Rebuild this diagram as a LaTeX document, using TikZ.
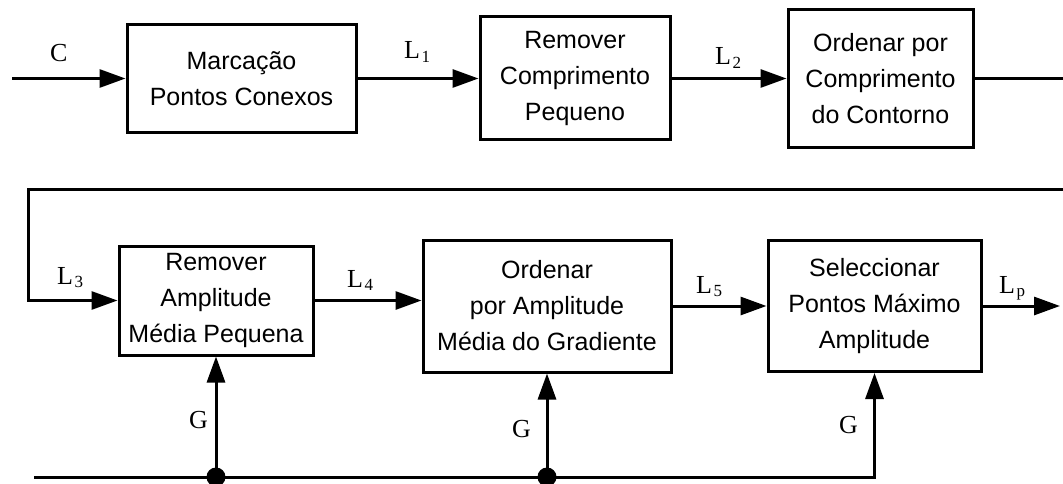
\documentclass[tikz,border=0pt]{standalone}
\usepackage{fontspec}
\setmainfont{Liberation Serif}
\setsansfont{Liberation Sans}
\usetikzlibrary{arrows.meta, positioning}

\newcommand{\lsub}[1]{\kern1.5pt\raisebox{-3.5pt}{\fontsize{17}{17}\selectfont #1}}

\begin{document}
\begin{tikzpicture}[x=1pt, y=-1pt,
  blok/.style={draw, line width=3pt, align=center, inner sep=0pt, font=\sffamily\fontsize{25}{36}\selectfont},
  arr/.style={line width=3pt, -{Triangle[length=26pt, width=18pt]}},
  wire/.style={line width=3pt},
  lbl/.style={anchor=base west, inner sep=0pt, font=\fontsize{26}{26}\selectfont},
  dot/.style={circle, fill, inner sep=0pt, minimum size=19pt}]
  \useasboundingbox (0,0) rectangle (1063,484);

  % top row
  \node[blok, minimum width=229pt, minimum height=108pt] (mcp) at (241.5,78.5) {Marcação\\Pontos Conexos};
  \node[blok, minimum width=190pt, minimum height=123pt] (rcp) at (575,78.5) {Remover\\Comprimento\\Pequeno};
  \node[blok, minimum width=185pt, minimum height=138pt] (occ) at (880.5,78.5) {Ordenar por\\Comprimento\\do Contorno};

  % bottom row
  \node[blok, minimum width=194pt, minimum height=109pt] (ram) at (216,300.5) {Remover\\Amplitude\\Média Pequena};
  \node[blok, minimum width=248pt, minimum height=132pt] (oam) at (547,306) {Ordenar\\por Amplitude\\Média do Gradiente};
  \node[blok, minimum width=213pt, minimum height=131pt] (spm) at (874.5,306) {Seleccionar\\Pontos Máximo\\Amplitude};

  % labels
  \node[lbl] (c) at (50,62) {C};
  \node[lbl] (l1) at (404,59) {L\lsub{1}};
  \node[lbl] (l2) at (715,65) {L\lsub{2}};
  \node[lbl] (l3) at (57,284) {L\lsub{3}};
  \node[lbl] (l4) at (347,287) {L\lsub{4}};
  \node[lbl] (l5) at (696,293) {L\lsub{5}};
  \node[lbl] (lp) at (999,293) {L\lsub{p}};
  \node[lbl] (g1) at (189,428) {G};
  \node[lbl] (g2) at (512,437) {G};
  \node[lbl] (g3) at (839,433) {G};

  % top links
  \coordinate (cin) at (12,78.5);
  \coordinate (oute) at (1070,78.5);
  \draw[arr] (cin) -- (mcp.west);
  \draw[arr] (mcp.east) -- (rcp.west);
  \draw[arr] (rcp.east) -- (occ.west);
  \draw[wire] (occ.east) -- (oute);

  % return to second row
  \coordinate (rete) at (1070,189);
  \coordinate (retw) at (28,189);
  \draw[arr] (rete) -- (retw) |- (ram.west);
  \draw[arr] (ram.east) -- (ram.east -| oam.west);
  \draw[arr] (oam.east) -- (spm.west);
  \coordinate (lpout) at (1060,306);
  \draw[arr] (spm.east) -- (lpout);

  % gradient bus
  \coordinate (gin) at (34,477);
  \node[dot] (d1) at (gin -| ram.south) {};
  \node[dot] (d2) at (gin -| oam.south) {};
  \draw[arr] (gin) -- (gin -| spm.south) -- (spm.south);
  \draw[arr] (d1.center) -- (ram.south);
  \draw[arr] (d2.center) -- (oam.south);
\end{tikzpicture}
\end{document}
